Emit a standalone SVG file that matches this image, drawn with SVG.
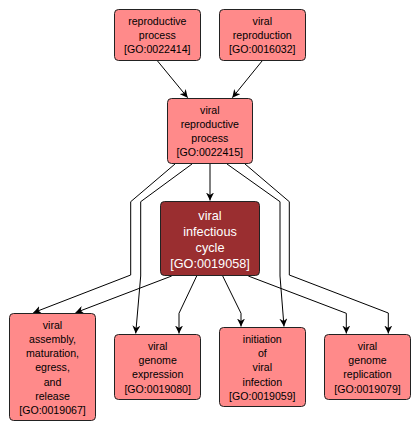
<svg xmlns="http://www.w3.org/2000/svg" width="420" height="431" viewBox="0 0 420 431">
<style>
.n rect{fill:#FF8A8A;stroke:#222;stroke-width:1}
.d rect{fill:#9A2E30;stroke:#222;stroke-width:1}
text{font-family:"Liberation Sans",Arial,sans-serif;text-anchor:middle}
.n text{font-size:10.6px;fill:#000}
.d text{font-size:12.7px;fill:#fff}
.e path{fill:none;stroke:#000;stroke-width:1}
</style>
<defs>
<marker id="a" viewBox="0 0 10 10" refX="10" refY="5" markerWidth="8" markerHeight="8" markerUnits="userSpaceOnUse" orient="auto">
<path d="M0,0 L10,5 L0,10 L3,5 z" fill="#000"/>
</marker>
</defs>
<rect width="420" height="431" fill="#fff"/>
<g class="e">
<path d="M157.3,60.7 L187.7,97.7" marker-end="url(#a)"/>
<path d="M262.3,60.7 L232.3,97.7" marker-end="url(#a)"/>
<path d="M210,164 L210,200.5" marker-end="url(#a)"/>
<path d="M175,164 L130.7,201.7 L130.7,275 L33.3,312.7" marker-end="url(#a)"/>
<path d="M192,164 L140.7,201.7 L140.7,276 L135.7,333.5" marker-end="url(#a)"/>
<path d="M227,164 L280,201.7 L280,276 L284,326.5" marker-end="url(#a)"/>
<path d="M245,164 L289.3,201.7 L289.3,275 L388.3,313 L388.3,333.5" marker-end="url(#a)"/>
<path d="M171.7,276 L75.5,312.7" marker-end="url(#a)"/>
<path d="M196.7,276 L179,313.3 L179,333.5" marker-end="url(#a)"/>
<path d="M222.7,276 L241,313.3 L241,326.5" marker-end="url(#a)"/>
<path d="M248.3,276 L346.3,313.3 L346.3,333.5" marker-end="url(#a)"/>
</g>
<g id="GO0022414" class="n">
<rect x="114.5" y="9.5" width="86" height="51" rx="4"/>
<text x="157.3" y="25">reproductive</text>
<text x="157.3" y="39">process</text>
<text x="157.3" y="53">[GO:0022414]</text>
</g>
<g id="GO0016032" class="n">
<rect x="219.5" y="9.5" width="86" height="51" rx="4"/>
<text x="262.3" y="25">viral</text>
<text x="262.3" y="39">reproduction</text>
<text x="262.3" y="53">[GO:0016032]</text>
</g>
<g id="GO0022415" class="n">
<rect x="167.5" y="98.5" width="85" height="65" rx="4"/>
<text x="209.8" y="114">viral</text>
<text x="209.8" y="128">reproductive</text>
<text x="209.8" y="142">process</text>
<text x="209.8" y="156">[GO:0022415]</text>
</g>
<g id="GO0019058" class="d">
<rect x="160.5" y="201.5" width="99" height="74" rx="4"/>
<text x="210" y="219.5">viral</text>
<text x="210" y="235.5">infectious</text>
<text x="210" y="252">cycle</text>
<text x="210" y="268">[GO:0019058]</text>
</g>
<g id="GO0019067" class="n">
<rect x="9.5" y="313.5" width="86" height="107" rx="4"/>
<text x="52.5" y="329">viral</text>
<text x="52.5" y="343">assembly,</text>
<text x="52.5" y="357.3">maturation,</text>
<text x="52.5" y="371.3">egress,</text>
<text x="52.5" y="385.7">and</text>
<text x="52.5" y="399.7">release</text>
<text x="52.5" y="414">[GO:0019067]</text>
</g>
<g id="GO0019080" class="n">
<rect x="114.5" y="334.5" width="86" height="65" rx="4"/>
<text x="157.7" y="349.5">viral</text>
<text x="157.7" y="364">genome</text>
<text x="157.7" y="378">expression</text>
<text x="157.7" y="393">[GO:0019080]</text>
</g>
<g id="GO0019059" class="n">
<rect x="219.5" y="327.5" width="86" height="79" rx="4"/>
<text x="262.3" y="343">initiation</text>
<text x="262.3" y="357.3">of</text>
<text x="262.3" y="371.3">viral</text>
<text x="262.3" y="385.7">infection</text>
<text x="262.3" y="399.7">[GO:0019059]</text>
</g>
<g id="GO0019079" class="n">
<rect x="324.5" y="334.5" width="86" height="65" rx="4"/>
<text x="367.5" y="349.5">viral</text>
<text x="367.5" y="364">genome</text>
<text x="367.5" y="378">replication</text>
<text x="367.5" y="393">[GO:0019079]</text>
</g>
</svg>
